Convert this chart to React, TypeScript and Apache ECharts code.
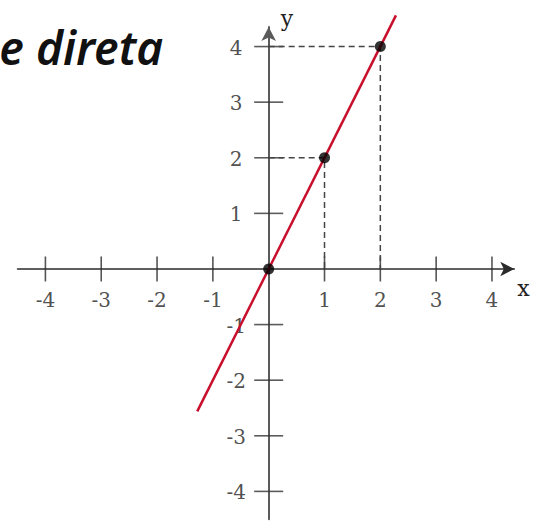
import React, { useEffect, useRef } from 'react';
import * as echarts from 'echarts';

const TITLE = 'e direta';
const X_TICKS = [-4, -3, -2, -1, 1, 2, 3, 4];
const Y_TICKS = [-4, -3, -2, -1, 1, 2, 3, 4];
const LINE_X = [-1.28, 2.28];
const LINE_Y = [-2.56, 4.56];
const POINT_X = [0, 1, 2];
const POINT_Y = [0, 2, 4];

const SERIF = '"DejaVu Serif", serif';

export default function App() {
  const ref = useRef<HTMLDivElement>(null);

  useEffect(() => {
    if (!ref.current) return;
    const chart = echarts.init(ref.current, null, { renderer: 'svg' });

    const guideSeries = POINT_X.map((x, i) => ({ x, y: POINT_Y[i] }))
      .filter((p) => p.x !== 0)
      .map((p) => ({
        type: 'line',
        data: [
          [0, p.y],
          [p.x, p.y],
          [p.x, 0],
        ],
        symbol: 'none',
        silent: true,
        z: 2,
        lineStyle: { color: '#444', width: 1.5, type: [6, 4] },
      }));

    const option: any = {
      animation: false,
      backgroundColor: '#ffffff',
      grid: {
        left: 17.5,
        right: 28.7,
        top: 27.1,
        bottom: 3.8,
        containLabel: false,
        outerBoundsMode: 'none',
      },
      graphic: [
        {
          type: 'text',
          x: 163,
          y: 47,
          style: {
            text: TITLE,
            font: 'italic 600 46px "Noto Sans", sans-serif',
            fill: '#111',
            align: 'right',
            verticalAlign: 'middle',
          },
        },
      ],
      xAxis: {
        type: 'value',
        min: -4.5,
        max: 4.4,
        interval: 0.5,
        name: 'x',
        nameLocation: 'end',
        nameGap: 3,
        nameMoveOverlap: false,
        nameTextStyle: {
          fontFamily: SERIF,
          fontSize: 22,
          color: '#222',
          align: 'left',
          verticalAlign: 'top',
          padding: [9, 0, 0, 0],
        },
        axisLine: {
          onZero: true,
          symbol: ['none', 'arrow'],
          symbolSize: [11, 14],
          lineStyle: { color: '#2b2b2b', width: 1.5 },
        },
        axisTick: { show: false },
        splitLine: { show: false },
        axisLabel: { show: false },
      },
      yAxis: {
        type: 'value',
        min: -4.5,
        max: 4.35,
        interval: 0.5,
        name: 'y',
        nameLocation: 'end',
        nameGap: -2,
        nameMoveOverlap: false,
        nameTextStyle: {
          fontFamily: SERIF,
          fontSize: 22,
          color: '#222',
          align: 'left',
          verticalAlign: 'bottom',
          padding: [0, 0, 0, 12],
        },
        axisLine: {
          onZero: true,
          symbol: ['none', 'arrow'],
          symbolSize: [11, 14],
          lineStyle: { color: '#5a5a5a', width: 2 },
        },
        axisTick: { show: false },
        splitLine: { show: false },
        axisLabel: { show: false },
      },
      series: [
        {
          type: 'scatter',
          data: X_TICKS.map((v) => [v, 0]),
          symbol: 'rect',
          symbolSize: [1.6, 25],
          itemStyle: { color: '#2b2b2b' },
          silent: true,
          z: 1,
          label: {
            show: true,
            position: 'bottom',
            distance: 9,
            fontFamily: SERIF,
            fontSize: 20,
            color: '#222',
            formatter: (p: any) => String(p.value[0]),
          },
        },
        {
          type: 'scatter',
          data: Y_TICKS.map((v) => [0, v]),
          symbol: 'rect',
          symbolSize: [29, 1.6],
          itemStyle: { color: '#333' },
          silent: true,
          z: 1,
          label: {
            show: true,
            position: 'left',
            distance: 18,
            align: 'center',
            offset: [0, 1],
            fontFamily: SERIF,
            fontSize: 20,
            color: '#222',
            formatter: (p: any) => String(p.value[1]),
          },
        },
        ...guideSeries,
        {
          type: 'line',
          data: LINE_X.map((x, i) => [x, LINE_Y[i]]),
          symbol: 'none',
          silent: true,
          clip: false,
          z: 3,
          lineStyle: { color: '#c8102e', width: 2.5 },
        },
        {
          type: 'scatter',
          data: POINT_X.map((x, i) => [x, POINT_Y[i]]),
          symbol: 'circle',
          symbolSize: 11,
          itemStyle: { color: '#000' },
          silent: true,
          z: 4,
        },
      ],
    };

    chart.setOption(option);
    return () => chart.dispose();
  }, []);

  return (
    <div
      ref={ref}
      style={{ position: 'fixed', left: 0, top: 0, width: 543, height: 523, background: '#fff' }}
    />
  );
}
